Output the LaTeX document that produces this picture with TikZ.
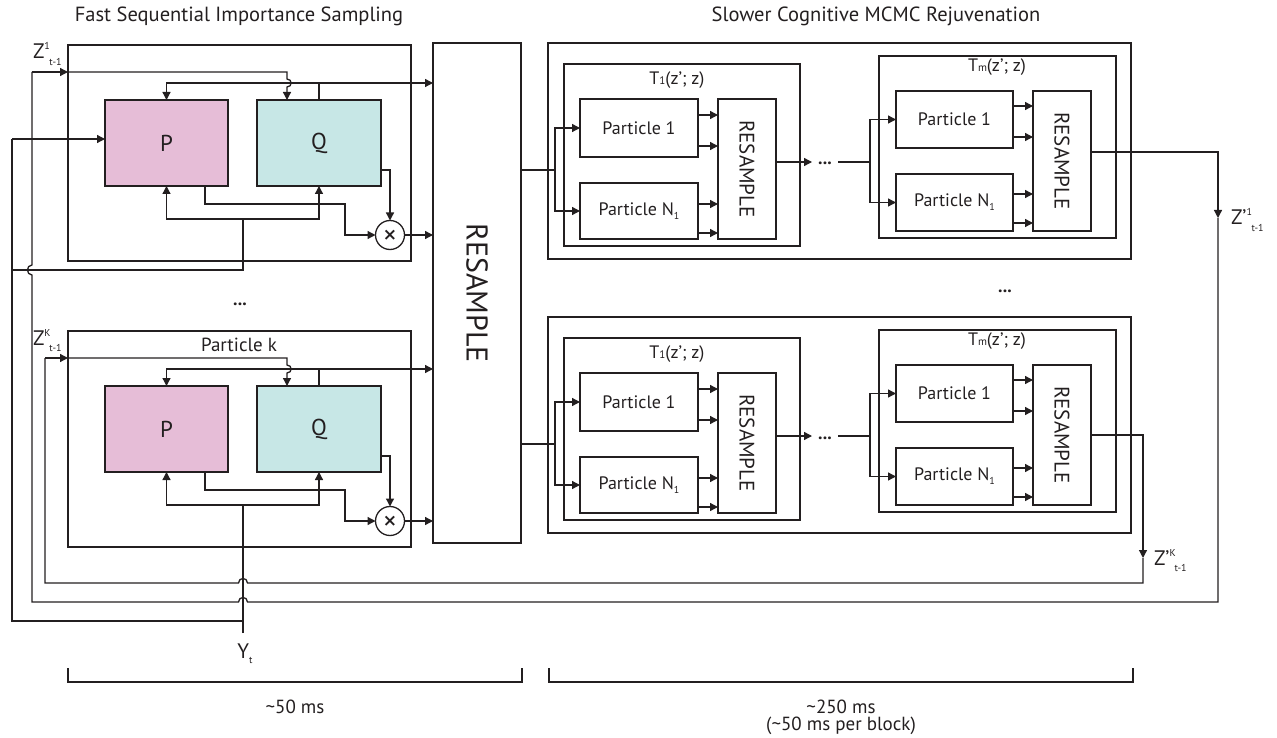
\documentclass[tikz,border=0pt]{standalone}
\usepackage{fontspec}
\setmainfont{PT Sans}
\newfontfamily\dvs{DejaVu Sans}
\usetikzlibrary{arrows.meta,calc}
\definecolor{ln}{HTML}{231F20}
\definecolor{pcol}{HTML}{E6BDD7}
\definecolor{qcol}{HTML}{C7E7E6}
\newcommand\fs[1]{\fontsize{#1}{#1}\selectfont}
\newcommand\zlab[3]{#1\rlap{\raisebox{9pt}{\fs{10}#2}}\hspace{5pt}\raisebox{-6.5pt}{\fs{10}#3}}
\tikzset{
  box/.style={draw=ln, line width=1.3pt, inner sep=0pt, outer sep=0pt, rectangle, text=ln},
  wire/.style={draw=ln, line width=1.3pt},
  arr/.style={wire, -{Triangle[length=8pt,width=8pt]}},
  lbl/.style={inner sep=0pt, outer sep=0pt, text=ln},
}
\begin{document}
\begin{tikzpicture}[x=1pt,y=-1pt]
\useasboundingbox (0,0) rectangle (1277,738);
% titles
\node[lbl, font=\fs{20.5}] (t1) at (239,16) {Fast Sequential Importance Sampling};
\node[lbl, font=\fs{20.5}] (t2) at (876,16) {Slower Cognitive MCMC Rejuvenation};
% big resample
\node[box, minimum width=88pt, minimum height=500pt] (R) at (477,293) {};
\node[lbl, rotate=-90, font=\fs{30}] (Rl) at (R.center) {RESAMPLE};

\foreach \s/\dy in {a/0,b/286}{
\begin{scope}[shift={(0,\dy)}]
 \node[box, minimum width=343pt, minimum height=216pt] (box\s) at (239.5,153) {};
 \node[box, fill=pcol, minimum width=123pt, minimum height=86pt, font=\fs{23}] (P\s) at (166.5,143) {P};
 \node[box, fill=qcol, minimum width=124pt, minimum height=86pt, font=\fs{23}] (Q\s) at (319,143) {Q};
 \node[box, circle, minimum size=29pt, font=\fs{17}\dvs\bfseries] (X\s) at (390,235) {×};
 \coordinate (zin\s) at (68,72);
 \coordinate (qz\s) at (287,72);
 \coordinate (qt\s) at (319,83);
 \coordinate (fb\s) at (243,219);
 \draw[arr] (zin\s) -- (qz\s) -- (287,79) .. controls (292.5,79) and (292.5,87) .. (287,87) -- (Q\s.north -| qz\s);
 \draw[wire] (Q\s.north) -- (qt\s);
 \draw[arr] (qt\s) -| (P\s.north);
 \draw[arr] (qt\s) -- (qt\s -| R.west);
 \draw[arr] (fb\s) -| (P\s.south);
 \draw[arr] (fb\s) -| (Q\s.south);
 \draw[arr] (205,186) |- (345,204) |- (X\s.west);
 \draw[arr] (381,170) -| (X\s.north);
 \draw[arr] (X\s.east) -- (X\s.east -| R.west);
\end{scope}}

\node[lbl, font=\fs{19}] (pk) at (239,345) {Particle k};
\node[lbl, font=\fs{21}, anchor=base west] (z1) at (33,59) {\zlab{Z}{1}{t-1}};
\node[lbl, font=\fs{21}, anchor=base west] (zk) at (33,345) {\zlab{Z}{K}{t-1}};
\node[lbl, font=\fs{18}\bfseries, anchor=base] (ldots) at (240,305) {...};

% left wiring
\coordinate (lp) at (12,139);
\coordinate (ytop) at (243,633);
\draw[arr] (lp) -- (lp -| Pa.west);
\draw[wire] (lp) -- (12,621) -- (243,621);
\draw[wire] (12,270) -- (243,270) -- (fba);
\draw[wire] (ytop) -- (fbb);
\node[lbl, font=\fs{21}, anchor=base] (Yt) at (245,658) {Y\raisebox{-5pt}{\fs{10}t}};

% right blocks
\foreach \t/\dy in {a/0,b/274}{
\begin{scope}[shift={(0,\dy)}]
 \node[box, minimum width=583pt, minimum height=216pt] (O\t) at (839.5,151) {};
 \node[box, minimum width=236pt, minimum height=182pt] (T\t) at (682,155) {};
 \node[lbl, font=\fs{18}] (Tl\t) at (677,80) {T{\fs{11}1}(z’; z)};
 \node[box, minimum width=118pt, minimum height=58pt, font=\fs{18}] (AP\t) at (639,128) {Particle 1};
 \node[box, minimum width=118pt, minimum height=56pt, font=\fs{18}] (AN\t) at (639,211) {Particle N\raisebox{-4pt}{\fs{10}1}};
 \node[box, minimum width=58pt, minimum height=140pt] (AR\t) at (747,169) {};
 \node[lbl, rotate=-90, font=\fs{21}] (ARl\t) at (AR\t.center) {RESAMPLE};
 \node[box, minimum width=237pt, minimum height=182pt] (M\t) at (997.5,147) {};
 \node[lbl, font=\fs{18}] (Ml\t) at (997,67) {T{\fs{11}m}(z’; z)};
 \node[box, minimum width=117pt, minimum height=57pt, font=\fs{18}] (BP\t) at (954.5,119.5) {Particle 1};
 \node[box, minimum width=117pt, minimum height=57pt, font=\fs{18}] (BN\t) at (954.5,202.5) {Particle N\raisebox{-4pt}{\fs{10}1}};
 \node[box, minimum width=58pt, minimum height=140pt] (BR\t) at (1062,161) {};
 \node[lbl, rotate=-90, font=\fs{21}] (BRl\t) at (BR\t.center) {RESAMPLE};
 \coordinate (ri\t) at (521,170);
 \coordinate (sp\t) at (555,170);
 \draw[wire] (ri\t) -- (sp\t);
 \draw[arr] (sp\t) |- (AP\t.west);
 \draw[arr] (sp\t) |- (AN\t.west);
 \foreach \o in {13,-18}{\draw[arr] ([yshift=\o pt]AP\t.east) -- ([yshift=\o pt]AP\t.east -| AR\t.west);}
 \foreach \o in {7,-22}{\draw[arr] ([yshift=\o pt]AN\t.east) -- ([yshift=\o pt]AN\t.east -| AR\t.west);}
 \foreach \o in {13.5,-17.5}{\draw[arr] ([yshift=\o pt]BP\t.east) -- ([yshift=\o pt]BP\t.east -| BR\t.west);}
 \foreach \o in {8.5,-20.5}{\draw[arr] ([yshift=\o pt]BN\t.east) -- ([yshift=\o pt]BN\t.east -| BR\t.west);}
 \node[lbl, font=\fs{18}\bfseries, anchor=base] (dd\t) at (825,165) {...};
 \coordinate (ao\t) at (776,162);
 \coordinate (bs\t) at (870,162);
 \draw[arr] (ao\t) -- (812,162);
 \draw[wire] (838,162) -- (bs\t);
 \draw[arr] (bs\t) |- (BP\t.west);
 \draw[arr] (bs\t) |- (BN\t.west);
\end{scope}}
\node[lbl, font=\fs{18}\bfseries, anchor=base] (rdots) at (1005,292) {...};

% return paths
\coordinate (oa) at (1091,152);
\coordinate (za) at (1218,218);
\draw[arr] (oa) -| (za);
\draw[wire] (za) -- (1218,602) -- (247.5,602) .. controls (247.5,596) and (238.5,596) .. (238.5,602) -- (32,602) -- (32,275) .. controls (26,275) and (26,265) .. (32,265) -- (32,72);
\draw[arr] (32,72) -- (zina);
\coordinate (ob) at (1091,435);
\coordinate (zb) at (1143,558);
\draw[arr] (ob) -| (zb);
\draw[wire] (zb) -- (1143,583) -- (247.5,583) .. controls (247.5,577) and (238.5,577) .. (238.5,583) -- (45,583) -- (45,358);
\draw[arr] (45,358) -- (zinb);
\node[lbl, font=\fs{21}, anchor=base west] (zp1) at (1231,225) {\zlab{Z’}{1}{t-1}};
\node[lbl, font=\fs{21}, anchor=base west] (zpk) at (1154,565) {\zlab{Z’}{K}{t-1}};

% brackets
\draw[wire] (68,668) -- (68,682) -- (522,682) -- (522,668);
\draw[wire] (549,668) -- (549,682) -- (1133,682) -- (1133,668);
\node[lbl, font=\fs{19}] (ms1) at (295,707) {\textasciitilde 50 ms};
\node[lbl, font=\fs{19}] (ms2) at (841,707) {\textasciitilde 250 ms};
\node[lbl, font=\fs{19}] (ms3) at (841,726) {(\textasciitilde 50 ms per block)};
\end{tikzpicture}
\end{document}
